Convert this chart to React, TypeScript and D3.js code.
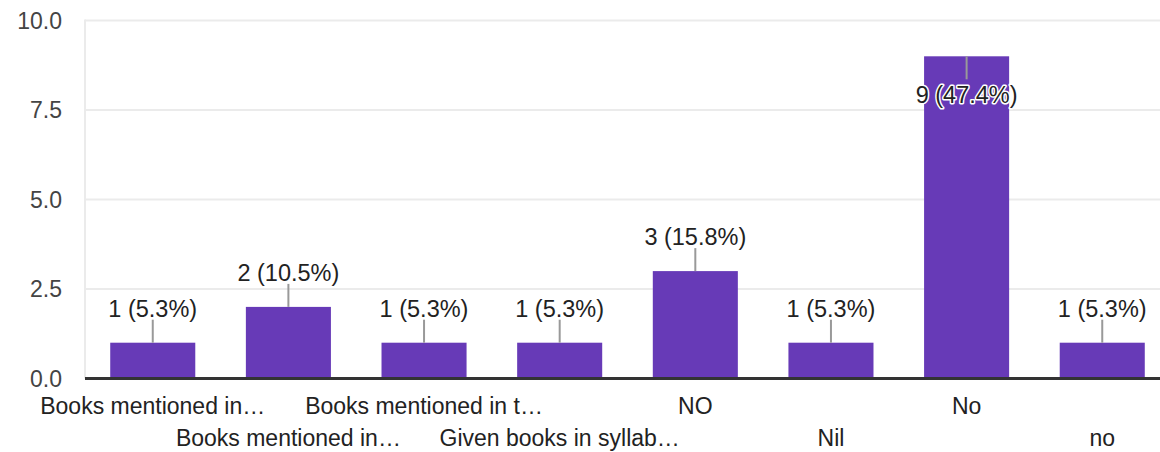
import React from 'react'
import * as d3 from 'd3'

const categories = [
  'Books mentioned in…',
  'Books mentioned in…',
  'Books mentioned in t…',
  'Given books in syllab…',
  'NO',
  'Nil',
  'No',
  'no',
]
const counts = [1, 2, 1, 1, 3, 1, 9, 1]
const percents = ['5.3%', '10.5%', '5.3%', '5.3%', '15.8%', '5.3%', '47.4%', '5.3%']
const yTicks = [0, 2.5, 5, 7.5, 10]

const W = 1160
const H = 452
const FONT = '"Liberation Sans", Arial, sans-serif'

export default function App() {
  const left = 85
  const x = d3.scaleBand<number>().domain(d3.range(categories.length)).range([left, 1170]).paddingInner(0.373).paddingOuter(0.186)
  const y = d3.scaleLinear().domain([0, 10]).range([378.5, 20.5])
  const bw = x.bandwidth()

  return (
    <svg width={W} height={H} style={{ position: 'absolute', left: 0, top: 0, fontFamily: FONT }}>
      <rect width={W} height={H} fill="#fff" />
      {/* grid */}
      {yTicks.filter(t => t > 0).map(t => (
        <line key={t} x1={left} x2={W} y1={y(t)} y2={y(t)} stroke="#ebebeb" strokeWidth={2} />
      ))}
      <line x1={left} x2={left} y1={y(10) - 1} y2={y(0)} stroke="#ebebeb" strokeWidth={2} />
      {yTicks.map(t => (
        <text key={t} x={62} y={y(t)} dy="0.36em" textAnchor="end" fontSize={23} fill="#444">
          {d3.format('.1f')(t)}
        </text>
      ))}
      {/* bars */}
      {counts.map((c, i) => (
        <rect key={i} x={x(i)} y={y(c)} width={bw} height={y(0) - y(c)} fill="#673ab7" />
      ))}
      <line x1={left} x2={W} y1={y(0)} y2={y(0)} stroke="#333" strokeWidth={3} />
      {/* annotations */}
      {counts.map((c, i) => {
        const cx = (x(i) as number) + bw / 2
        const top = y(c)
        const flip = top - 60 < 0
        const label = `${c} (${percents[i]})`
        if (!flip) {
          return (
            <g key={i}>
              <line x1={cx} x2={cx} y1={top} y2={top - 23} stroke="#999" strokeWidth={2} />
              <text x={cx} y={top - 26} textAnchor="middle" fontSize={23.5} fill="#222">{label}</text>
            </g>
          )
        }
        return (
          <g key={i}>
            <line x1={cx} x2={cx} y1={top} y2={top + 23} stroke="#999" strokeWidth={2} />
            <text x={cx} y={top + 47} textAnchor="middle" fontSize={23.5} fill="#222" stroke="#fff" strokeWidth={3} paintOrder="stroke" strokeLinejoin="round">{label}</text>
          </g>
        )
      })}
      {/* x labels, staggered */}
      {categories.map((c, i) => (
        <text key={i} x={(x(i) as number) + bw / 2} y={i % 2 === 0 ? 414 : 445.5} textAnchor="middle" fontSize={23} fill="#222">
          {c}
        </text>
      ))}
    </svg>
  )
}
